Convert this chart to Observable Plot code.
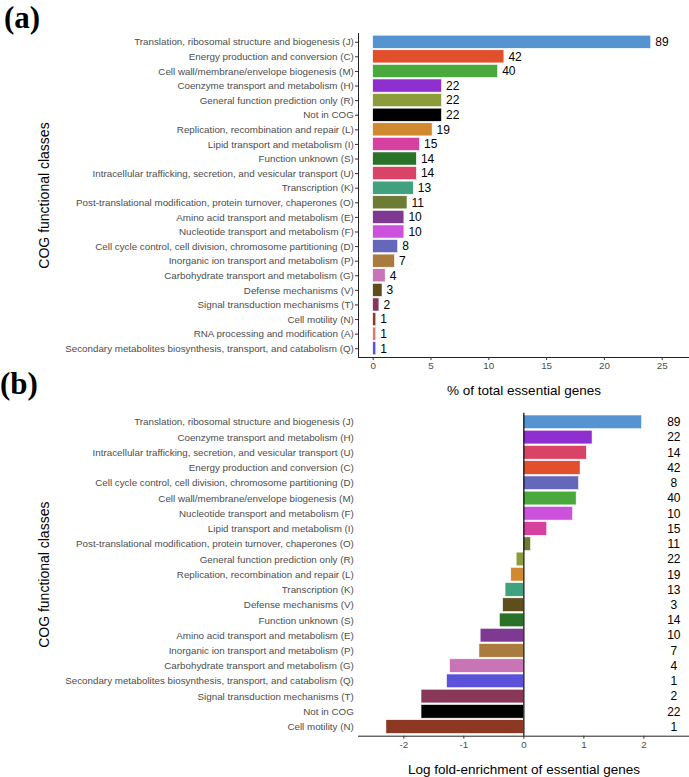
<!DOCTYPE html>
<html>
<head>
<meta charset="utf-8">
<script src="https://cdn.jsdelivr.net/npm/d3@7"></script>
<script src="https://cdn.jsdelivr.net/npm/@observablehq/plot@0.6"></script>
<style>
  html, body { margin: 0; padding: 0; background: #fff; }
  #wrap { position: relative; width: 689px; height: 777px; overflow: hidden; font-family: "Liberation Sans", Arial, sans-serif; }
  #wrap > div.panel { position: absolute; left: 0; }
  .tag { position: absolute; font-family: "Liberation Serif", "Times New Roman", serif; font-weight: bold; font-size: 31px; line-height: 1; color: #000; }
</style>
</head>
<body>
<div id="wrap">
  <div class="panel" id="pa" style="top:0"></div>
  <div class="panel" id="pb" style="top:400px"></div>
  <div class="tag" style="left:4px; top:2px">(a)</div>
  <div class="tag" style="left:0px; top:368px">(b)</div>
</div>
<script>
// ---------- Data ----------
const categoriesA = [
  "Translation, ribosomal structure and biogenesis (J)",
  "Energy production and conversion (C)",
  "Cell wall/membrane/envelope biogenesis (M)",
  "Coenzyme transport and metabolism (H)",
  "General function prediction only (R)",
  "Not in COG",
  "Replication, recombination and repair (L)",
  "Lipid transport and metabolism (I)",
  "Function unknown (S)",
  "Intracellular trafficking, secretion, and vesicular transport (U)",
  "Transcription (K)",
  "Post-translational modification, protein turnover, chaperones (O)",
  "Amino acid transport and metabolism (E)",
  "Nucleotide transport and metabolism (F)",
  "Cell cycle control, cell division, chromosome partitioning (D)",
  "Inorganic ion transport and metabolism (P)",
  "Carbohydrate transport and metabolism (G)",
  "Defense mechanisms (V)",
  "Signal transduction mechanisms (T)",
  "Cell motility (N)",
  "RNA processing and modification (A)",
  "Secondary metabolites biosynthesis, transport, and catabolism (Q)"
];
const countsA = [89, 42, 40, 22, 22, 22, 19, 15, 14, 14, 13, 11, 10, 10, 8, 7, 4, 3, 2, 1, 1, 1];
const percentA = [24.05, 11.35, 10.81, 5.95, 5.95, 5.95, 5.14, 4.05, 3.78, 3.78, 3.51, 2.97, 2.70, 2.70, 2.16, 1.89, 1.08, 0.81, 0.54, 0.27, 0.27, 0.27];
const ticksA = [0, 5, 10, 15, 20, 25];

const categoriesB = [
  "Translation, ribosomal structure and biogenesis (J)",
  "Coenzyme transport and metabolism (H)",
  "Intracellular trafficking, secretion, and vesicular transport (U)",
  "Energy production and conversion (C)",
  "Cell cycle control, cell division, chromosome partitioning (D)",
  "Cell wall/membrane/envelope biogenesis (M)",
  "Nucleotide transport and metabolism (F)",
  "Lipid transport and metabolism (I)",
  "Post-translational modification, protein turnover, chaperones (O)",
  "General function prediction only (R)",
  "Replication, recombination and repair (L)",
  "Transcription (K)",
  "Defense mechanisms (V)",
  "Function unknown (S)",
  "Amino acid transport and metabolism (E)",
  "Inorganic ion transport and metabolism (P)",
  "Carbohydrate transport and metabolism (G)",
  "Secondary metabolites biosynthesis, transport, and catabolism (Q)",
  "Signal transduction mechanisms (T)",
  "Not in COG",
  "Cell motility (N)"
];
const logFoldB = [1.97, 1.145, 1.05, 0.945, 0.92, 0.88, 0.82, 0.39, 0.12, -0.12, -0.21, -0.305, -0.345, -0.40, -0.72, -0.74, -1.23, -1.28, -1.705, -1.705, -2.29];
const countsB = [89, 22, 14, 42, 8, 40, 10, 15, 11, 22, 19, 13, 3, 14, 10, 7, 4, 1, 2, 22, 1];
const ticksB = [-2, -1, 0, 1, 2];

const colorCategories = categoriesA;
const colorValues = [
  "#5593d1", "#e14f2d", "#4aa93d", "#8f2fd0", "#8c9c3a", "#000000",
  "#d0892e", "#d6409f", "#2b7229", "#d84366", "#40a17f", "#6d7b34",
  "#7e3993", "#cc52dd", "#6568ba", "#a97b3e", "#c975b5", "#5e4e1b",
  "#883759", "#8c3822", "#de7770", "#5c52d9"
];

const tableA = categoriesA.map((c, i) => ({cat: c, value: percentA[i], count: countsA[i]}));
const tableB = categoriesB.map((c, i) => ({cat: c, value: logFoldB[i], count: countsB[i]}));

const baseStyle = {fontFamily: "'Liberation Sans', Arial, sans-serif", fontSize: "9.8px", background: "transparent", overflow: "visible"};
const colorScale = {domain: colorCategories, range: colorValues};

// ---------- Panel (a) ----------
const plotA = Plot.plot({
  width: 689, height: 400,
  marginLeft: 358, marginRight: 0, marginTop: 33, marginBottom: 43,
  style: baseStyle,
  x: {domain: [-1.27, 27.36], label: null},
  y: {domain: categoriesA, paddingInner: 0.1, paddingOuter: 0.15, round: false, label: null},
  color: colorScale,
  marks: [
    Plot.barX(tableA, {x: "value", y: "cat", fill: "cat", stroke: "white", strokeWidth: 0.6}),
    Plot.text(tableA, {x: "value", y: "cat", text: d => String(d.count), textAnchor: "start", dx: 4, fontSize: 12, fill: "#000"}),
    Plot.frame({anchor: "left", stroke: "#222", strokeWidth: 1}),
    Plot.frame({anchor: "bottom", stroke: "#222", strokeWidth: 1}),
    Plot.axisY({tickSize: 3, tickPadding: 1.7, fill: "#4d4d4d", stroke: "#333", label: null}),
    Plot.axisX({ticks: ticksA, tickSize: 3, tickPadding: 2, fill: "#4d4d4d", stroke: "#333", tickFormat: d => String(d), label: null}),
    Plot.text(["% of total essential genes"], {text: d => d, frameAnchor: "bottom", textAnchor: "middle", dy: 37, lineAnchor: "bottom", fontSize: 13.5, fill: "#000"}),
    Plot.text(["COG functional classes"], {text: d => d, frameAnchor: "left", textAnchor: "middle", rotate: -90, dx: -314, lineAnchor: "middle", fontSize: 14, fill: "#000"})
  ]
});
document.getElementById("pa").appendChild(plotA);

// ---------- Panel (b) ----------
const plotB = Plot.plot({
  width: 689, height: 377,
  marginLeft: 358, marginRight: 0, marginTop: 12.7, marginBottom: 41.3,
  style: baseStyle,
  x: {domain: [-2.755, 2.76], label: null},
  y: {domain: categoriesB, paddingInner: 0.1, paddingOuter: 0.15, round: false, label: null},
  color: colorScale,
  marks: [
    Plot.barX(tableB, {x: "value", y: "cat", fill: "cat", stroke: "white", strokeWidth: 0.6}),
    Plot.ruleX([0], {stroke: "#000", strokeWidth: 1.2}),
    Plot.text(tableB, {y: "cat", text: d => String(d.count), frameAnchor: "right", dx: -15.7, textAnchor: "middle", fontSize: 12, fill: "#000"}),
    Plot.frame({anchor: "bottom", stroke: "#222", strokeWidth: 1}),
    Plot.axisY({tickSize: 0, tickPadding: 4.7, fill: "#4d4d4d", label: null}),
    Plot.axisX({ticks: ticksB, tickSize: 3, tickPadding: 2, fill: "#4d4d4d", stroke: "#333", tickFormat: d => String(d), label: null}),
    Plot.text(["Log fold-enrichment of essential genes"], {text: d => d, frameAnchor: "bottom", textAnchor: "middle", dy: 37.6, lineAnchor: "bottom", fontSize: 13.5, fill: "#000"}),
    Plot.text(["COG functional classes"], {text: d => d, frameAnchor: "left", textAnchor: "middle", rotate: -90, dx: -314, lineAnchor: "middle", fontSize: 14, fill: "#000"})
  ]
});
document.getElementById("pb").appendChild(plotB);
</script>
</body>
</html>
